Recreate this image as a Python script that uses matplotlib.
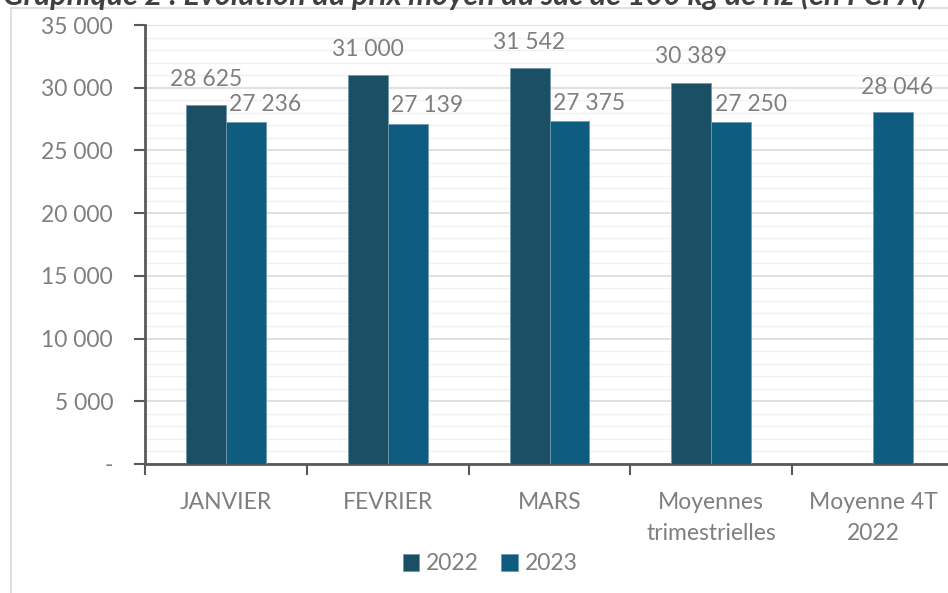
import numpy as np
import matplotlib.pyplot as plt
from matplotlib.patches import Rectangle
from matplotlib.ticker import FuncFormatter, MultipleLocator

categories = ['JANVIER', 'FEVRIER', 'MARS', 'Moyennes\ntrimestrielles', 'Moyenne 4T\n2022']
prix_2022 = [28625, 31000, 31542, 30389, np.nan]
prix_2023 = [27236, 27139, 27375, 27250, 28046]
years = ['2022', '2023']
title = 'Graphique 2 : Evolution du prix moyen du sac de 100 kg de riz (en FCFA)'

c22 = '#1b4f63'
c23 = '#0e5c80'
grey = '#7f7f7f'
axcol = '#595959'

plt.rcParams['font.family'] = ['Lato', 'DejaVu Sans']


def fmt(v, pos=None):
    if v == 0:
        return '-'
    return '{:,.0f}'.format(v).replace(',', ' ')


def main():
    W, H = 948, 593
    fig = plt.figure(figsize=(W / 100, H / 100), dpi=100)

    # frame of the chart area (cropped on right/bottom)
    fig.patches.append(Rectangle((11 / W, -0.1), 1.2, 1 - 8 / H + 0.1,
                                 transform=fig.transFigure, fill=False,
                                 edgecolor='#d9d9d9', lw=1.2))
    # title is cut by the top edge in the source picture
    fig.text(3 / W, 1 - 5 / H, title, fontsize=22, fontweight='bold',
             fontstyle='italic', color='#404040', va='baseline', ha='left')

    ax = fig.add_axes([145 / W, 1 - 464 / H, (954 - 145) / W, (464 - 25) / H])
    x = np.arange(len(categories))
    w = 0.247
    b1 = ax.bar(x - w / 2, prix_2022, w, color=c22, edgecolor='#6f9aad',
                linewidth=0.6, label=years[0], zorder=3)
    b2 = ax.bar(x + w / 2, prix_2023, w, color=c23, edgecolor='#6f9aad',
                linewidth=0.6, label=years[1], zorder=3)

    # data labels (2023 ones nudged right like in the source chart)
    for xi, v in zip(x, prix_2022):
        if not np.isnan(v):
            ax.annotate(fmt(v), (xi - w / 2, v), xytext=(0, 14),
                        textcoords='offset points', ha='center', va='baseline',
                        fontsize=16.5, color=grey)
    for i, (xi, v) in enumerate(zip(x, prix_2023)):
        dx = 14 if i < 4 else 3
        dy = 8 if i < 4 else 13
        ax.annotate(fmt(v), (xi + w / 2, v), xytext=(dx, dy),
                    textcoords='offset points', ha='center', va='baseline',
                    fontsize=16.5, color=grey)

    ax.set_xlim(-0.5, len(categories) - 0.5)
    ax.set_ylim(0, 35000)
    ax.yaxis.set_major_locator(MultipleLocator(5000))
    ax.yaxis.set_minor_locator(MultipleLocator(1000))
    ax.yaxis.set_major_formatter(FuncFormatter(fmt))
    ax.grid(axis='y', which='major', color='#d9d9d9', lw=1.1, zorder=0)
    ax.grid(axis='y', which='minor', color='#f0f0f0', lw=1.0, zorder=0)
    ax.set_axisbelow(True)

    ax.set_xticks(x)
    ax.set_xticklabels(categories, linespacing=1.6)
    ax.set_xticks(np.arange(-0.5, len(categories)), minor=True)
    ax.tick_params(axis='x', which='major', length=0, pad=20,
                   labelsize=16.5, labelcolor=grey)
    ax.tick_params(axis='x', which='minor', length=8, width=1.5,
                   color=axcol, direction='out')
    ax.tick_params(axis='y', which='major', length=8, width=1.5, color=axcol,
                   direction='out', pad=15, labelsize=16.5, labelcolor=grey)
    ax.tick_params(axis='y', which='minor', length=0)

    for s in ['top', 'right']:
        ax.spines[s].set_visible(False)
    for s in ['left', 'bottom']:
        ax.spines[s].set_color(axcol)
        ax.spines[s].set_linewidth(2)

    fig.legend(handles=[b1, b2], labels=years, loc='center',
               bbox_to_anchor=(490 / W, 1 - 564 / H), ncol=2,
               frameon=False, fontsize=16.5, handlelength=0.7,
               handleheight=0.7, handletextpad=0.3, columnspacing=1.0,
               labelcolor=grey)

    fig.savefig('out.png', dpi=100)


if __name__ == '__main__':
    main()
